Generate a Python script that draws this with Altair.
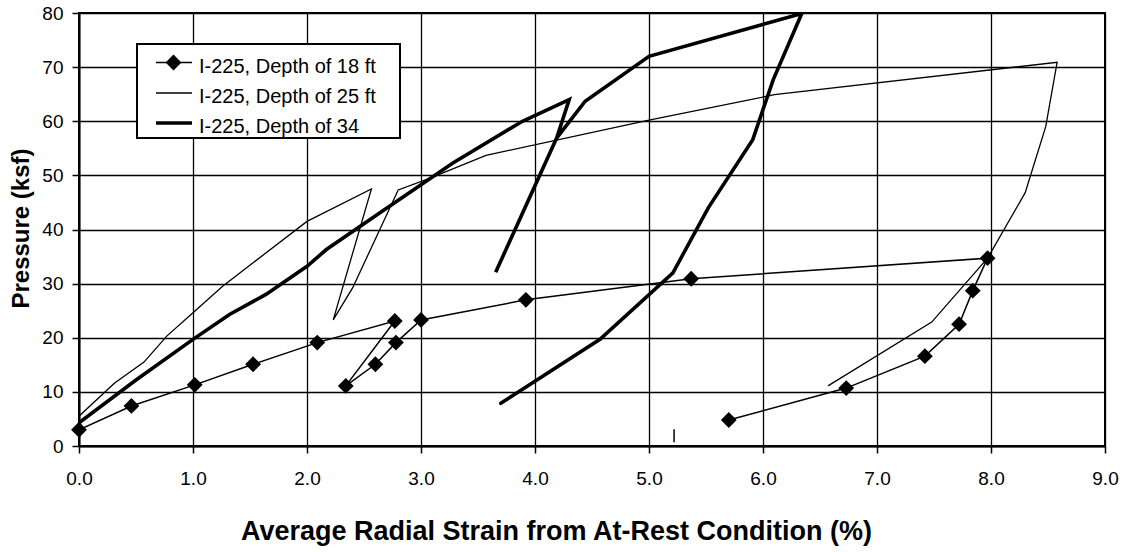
import altair as alt
import pandas as pd

# ---- data ----
x18 = [0.0, 0.46, 1.015, 1.527, 2.09, 2.77, 2.34, 2.60, 2.78, 3.00, 3.92, 5.37, 7.97, 7.84, 7.72, 7.42, 6.73, 5.70]
y18 = [3.0, 7.4, 11.3, 15.1, 19.1, 23.1, 11.1, 15.1, 19.1, 23.3, 27.0, 30.9, 34.7, 28.7, 22.5, 16.6, 10.7, 4.8]

x25 = [0.0, 0.31, 0.57, 0.77, 1.0, 1.26, 1.53, 2.0, 2.565, 2.23, 2.40, 2.80, 3.08, 3.57, 5.0, 6.1, 8.58, 8.48, 8.30, 7.97, 7.48, 6.57]
y25 = [5.5, 11.6, 15.5, 20.3, 24.6, 29.5, 33.9, 41.5, 47.5, 23.3, 29.2, 47.3, 49.5, 53.7, 60.2, 64.9, 70.9, 59.0, 46.8, 34.7, 22.9, 11.1]

x34 = [0.0, 0.5, 1.0, 1.32, 1.64, 2.0, 2.17, 2.64, 3.28, 3.89, 4.30, 4.19, 3.655, 4.19, 4.44, 5.0, 6.34, 6.09, 5.91, 5.52, 5.21, 4.57, 3.70]
y34 = [4.3, 12.2, 19.7, 24.3, 28.0, 33.2, 36.3, 43.1, 52.3, 60.0, 64.0, 56.9, 32.1, 56.9, 63.7, 72.0, 79.9, 67.7, 56.6, 44.0, 32.0, 19.7, 7.9]

# small stray mark near the x axis
mark_x = [5.22]
mark_y0 = [0.7]
mark_y1 = [3.1]

series_names = ["I-225, Depth of 18 ft", "I-225, Depth of 25 ft", "I-225, Depth of 34"]
x_ticks = [0, 1, 2, 3, 4, 5, 6, 7, 8, 9]
y_ticks = [0, 10, 20, 30, 40, 50, 60, 70, 80]

FONT = "Liberation Sans"
W, H = 1026, 433


def frame(xs, ys, name):
    return pd.DataFrame({"strain": xs, "pressure": ys, "idx": list(range(len(xs))), "series": name})


d18 = frame(x18, y18, series_names[0])
d25 = frame(x25, y25, series_names[1])
d34 = frame(x34, y34, series_names[2])

xscale = alt.Scale(domain=[0, 9], nice=False, zero=False)
yscale = alt.Scale(domain=[0, 80], nice=False, zero=False)

xaxis = alt.Axis(
    values=x_ticks, format=".1f",
    title="Average Radial Strain from At-Rest Condition (%)",
    titleFont=FONT, titleFontSize=27, titleFontWeight="bold", titleColor="black",
    titleX=477, titleY=93, titleAlign="center", titleBaseline="alphabetic", titleAnchor="start",
    labelFont=FONT, labelFontSize=19, labelColor="black", labelPadding=16, labelFlush=False,
    tickSize=7, tickColor="black", tickWidth=1.5,
    domainColor="black", domainWidth=2,
    grid=True, gridColor="black", gridWidth=1.3, gridOpacity=1,
)
yaxis = alt.Axis(
    values=y_ticks, format="d",
    title="Pressure (ksf)",
    titleFont=FONT, titleFontSize=24, titleFontWeight="bold", titleColor="black",
    titleX=-51, titleY=215, titleAngle=-90, titleAlign="center", titleBaseline="alphabetic", titleAnchor="start",
    labelFont=FONT, labelFontSize=19, labelColor="black", labelPadding=9, labelFlush=False,
    tickSize=7, tickColor="black", tickWidth=1.5,
    domainColor="black", domainWidth=2,
    grid=True, gridColor="black", gridWidth=1.3, gridOpacity=1,
)

X = alt.X("strain:Q", scale=xscale, axis=xaxis)
Y = alt.Y("pressure:Q", scale=yscale, axis=yaxis)
O = alt.Order("idx:Q")

line18 = alt.Chart(d18).mark_line(color="black", strokeWidth=1.5, strokeJoin="miter", strokeMiterLimit=4, clip=True).encode(x=X, y=Y, order=O)
pts18 = alt.Chart(d18).mark_point(shape="diamond", filled=True, size=250, color="black", opacity=1).encode(x=X, y=Y)
line25 = alt.Chart(d25).mark_line(color="black", strokeWidth=1.3, strokeJoin="miter", strokeMiterLimit=6, clip=True).encode(x=X, y=Y, order=O)
line34 = alt.Chart(d34).mark_line(color="black", strokeWidth=3.6, strokeJoin="miter", strokeMiterLimit=4, strokeCap="round", clip=True).encode(x=X, y=Y, order=O)

dmark = pd.DataFrame({"strain": mark_x, "pressure": mark_y0, "p2": mark_y1})
stray = alt.Chart(dmark).mark_rule(color="black", strokeWidth=1.5).encode(x=X, y=Y, y2="p2:Q")

# ---- legend (drawn by hand, in pixel positions of the plot area) ----
one = pd.DataFrame({"a": [0]})
leg_box = alt.Chart(one).mark_rect(fill="white", stroke="black", strokeWidth=2).encode(
    x=alt.value(58), x2=alt.value(321), y=alt.value(31), y2=alt.value(125))
leg_l1 = alt.Chart(one).mark_rule(color="black", strokeWidth=1.5).encode(
    x=alt.value(77), x2=alt.value(113), y=alt.value(49.5))
leg_p1 = alt.Chart(one).mark_point(shape="diamond", filled=True, size=250, color="black", opacity=1).encode(
    x=alt.value(94.5), y=alt.value(49.5))
leg_l2 = alt.Chart(one).mark_rule(color="black", strokeWidth=1.3).encode(
    x=alt.value(77), x2=alt.value(113), y=alt.value(80))
leg_l3 = alt.Chart(one).mark_rule(color="black", strokeWidth=3.6).encode(
    x=alt.value(77), x2=alt.value(113), y=alt.value(110))
leg_texts = []
for name, yy in zip(series_names, [60, 90, 120]):
    leg_texts.append(
        alt.Chart(one).mark_text(text=name, font=FONT, fontSize=20, color="black", align="left", baseline="alphabetic").encode(
            x=alt.value(120), y=alt.value(yy))
    )

chart = alt.layer(
    line25, line34, line18, pts18, stray,
    leg_box, leg_l1, leg_p1, leg_l2, leg_l3, *leg_texts
).properties(
    width=W, height=H,
    autosize=alt.AutoSizeParams(type="none"),
    padding={"left": 79, "top": 13, "right": 21, "bottom": 106},
    background="white",
).configure_view(stroke="black", strokeWidth=2)

chart.save("out.html", embed_options={"renderer": "svg", "actions": False})
